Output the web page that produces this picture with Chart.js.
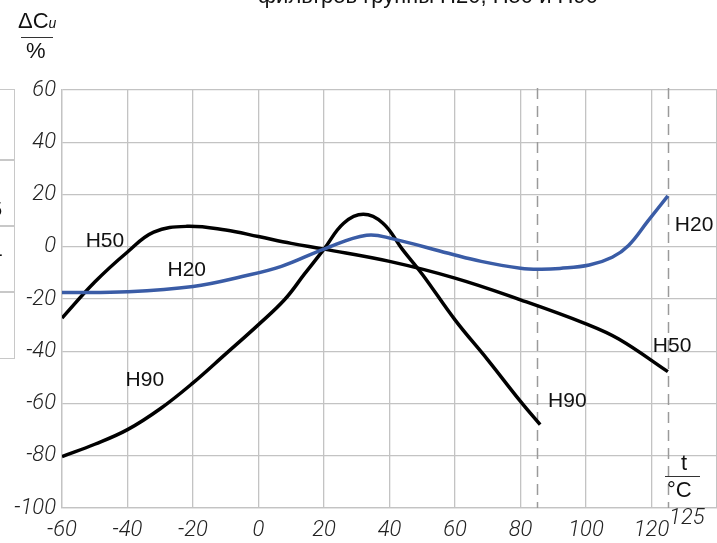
<!DOCTYPE html>
<html>
<head>
<meta charset="utf-8">
<script src="https://cdn.jsdelivr.net/npm/chart.js"></script>
<style>
  html, body { margin: 0; padding: 0; background: #fff; }
  #wrap { position: relative; width: 717px; height: 543px; overflow: hidden; }
  #c { position: absolute; left: 0; top: 0; }
  .txt { position: absolute; font-family: "Liberation Sans", Arial, sans-serif; color: #111; white-space: nowrap; }
  .rule { position: absolute; height: 0; border-top: 1.5px solid #333; }
  .box { position: absolute; border: 1px solid #c8c8c8; border-left: none; }
</style>
</head>
<body>
<div id="wrap">
  <canvas id="c" width="717" height="543"></canvas>
  <!-- clipped title and neighbouring table edge -->
  <div class="txt" style="left:258px; top:-17px; font-size:22px;">фильтров группы Н20, Н50 и Н90</div>
  <div class="box" style="left:-2px; top:89px; width:16px; height:70px;"></div>
  <div class="box" style="left:-2px; top:159px; width:16px; height:66px;"></div>
  <div class="box" style="left:-2px; top:225px; width:16px; height:66px;"></div>
  <div class="box" style="left:-2px; top:291px; width:16px; height:66px;"></div>
  <div class="txt" style="left:-9px; top:198px; font-size:20px;">5</div>
  <div class="txt" style="left:-4px; top:243px; font-size:20px;">-</div>
  <!-- axis titles -->
  <div class="txt" style="left:18px; top:8px; font-size:22px;">ΔC<span style="font-size:14px; font-style:italic;">и</span></div>
  <div class="rule" style="left:21px; top:37px; width:32px;"></div>
  <div class="txt" style="left:26px; top:38px; font-size:22px;">%</div>
  <div class="txt" style="left:681px; top:450px; font-size:22px;">t</div>
  <div class="rule" style="left:665px; top:476px; width:35px;"></div>
  <div class="txt" style="left:667px; top:477px; font-size:22px;">°C</div>
</div>
<script>
// temperature, °C
const h20T = [-60, -40, -20, -5, 7, 20, 33, 41, 58, 68, 80, 86, 92, 101, 108, 113, 119, 125];
const h20V = [-17.5, -17.2, -15.2, -11.4, -7.5, -0.9, 4.4, 3.0, -2.5, -5.6, -8.2, -8.6, -8.3, -7.0, -4.0, 0.5, 10, 19.5];

const h50T = [-60, -50, -40, -32, -22, -10, 0, 10, 20, 40, 60, 80, 100, 110, 125];
const h50V = [-27.3, -13.5, -2.0, 5.6, 7.8, 6.4, 3.9, 1.3, -0.9, -5.6, -12, -20.3, -29.5, -35.3, -47.8];

const h90T = [-60, -50, -40, -30, -20, -10, 0, 8, 14, 20, 26, 32, 38, 44, 50, 60, 70, 80, 86];
const h90V = [-80.3, -75.6, -70, -62, -52.1, -41, -29.8, -20.2, -10.5, -0.9, 9.0, 12.4, 9.0, -1.1, -10.5, -28, -43.3, -59.2, -68.1];

// marker lines (max working temperatures) and curve captions
const limitT = [85, 125];
const captions = [
  { text: 'H50', t: -46.9, v: 2.3 },
  { text: 'H20', t: -21.9, v: -8.8 },
  { text: 'H90', t: -34.7, v: -50.9 },
  { text: 'H90', t: 94.3, v: -59.3 },
  { text: 'H50', t: 126.3, v: -37.9 },
  { text: 'H20', t: 133, v: 8.4 }
];

const GRID = '#c3c3c3';
const TICK_FONT = { family: 'Roboto, "Liberation Sans", sans-serif', size: 22, style: 'italic', weight: 300 };

const toXY = (ts, vs) => ts.map((t, i) => ({ x: t, y: vs[i] }));

const extras = {
  id: 'extras',
  beforeDatasetsDraw(chart){
    const { ctx, chartArea: a, scales: { x } } = chart;
    ctx.save();
    ctx.strokeStyle = '#9a9a9a'; ctx.lineWidth = 1.5; ctx.setLineDash([11, 7]);
    limitT.forEach(t => {
      const px = Math.round(x.getPixelForValue(t)) + 0.5;
      ctx.beginPath(); ctx.moveTo(px, a.top - 2); ctx.lineTo(px, a.bottom); ctx.stroke();
    });
    ctx.restore();
  },
  afterDraw(chart){
    const { ctx, scales: { x, y } } = chart;
    ctx.save();
    ctx.fillStyle = '#111';
    ctx.font = '21px "Liberation Sans", Arial, sans-serif';
    ctx.textAlign = 'center'; ctx.textBaseline = 'middle';
    captions.forEach(c => ctx.fillText(c.text, x.getPixelForValue(c.t), y.getPixelForValue(c.v)));
    // the 125 tick sits raised beside 120
    ctx.font = 'italic 300 22px Roboto, "Liberation Sans", sans-serif';
    ctx.fillStyle = '#222';
    ctx.fillText('125', x.getPixelForValue(125) + 19, 518);
    ctx.restore();
  }
};

new Chart(document.getElementById('c'), {
  type: 'line',
  data: {
    datasets: [
      { label: 'H20', data: toXY(h20T, h20V), borderColor: '#3a5ca6', borderWidth: 3.5 },
      { label: 'H50', data: toXY(h50T, h50V), borderColor: '#000', borderWidth: 3.5 },
      { label: 'H90', data: toXY(h90T, h90V), borderColor: '#000', borderWidth: 3.5 }
    ]
  },
  options: {
    responsive: false,
    animation: false,
    parsing: false,
    layout: { padding: { top: 90, right: 0, left: 0, bottom: 0 } },
    elements: {
      point: { radius: 0 },
      line: { tension: 0.4, fill: false, borderCapStyle: 'butt' }
    },
    plugins: { legend: { display: false }, tooltip: { enabled: false } },
    scales: {
      x: {
        type: 'linear', min: -60, max: 140,
        grid: { color: GRID, lineWidth: 1.3, drawTicks: false },
        border: { color: GRID, width: 1.3 },
        ticks: {
          stepSize: 20, padding: 9, color: '#222', font: TICK_FONT, maxRotation: 0, autoSkip: false,
          callback: v => v <= 120 ? v : ''
        },
        afterFit(s){ s.height = 35; s.paddingRight = 0; }
      },
      y: {
        min: -100, max: 60,
        grid: { color: GRID, lineWidth: 1.3, drawTicks: false },
        border: { color: GRID, width: 1.3 },
        ticks: { stepSize: 20, padding: 6, color: '#222', font: TICK_FONT },
        afterFit(s){ s.width = 62; }
      }
    }
  },
  plugins: [extras]
});
</script>
</body>
</html>
